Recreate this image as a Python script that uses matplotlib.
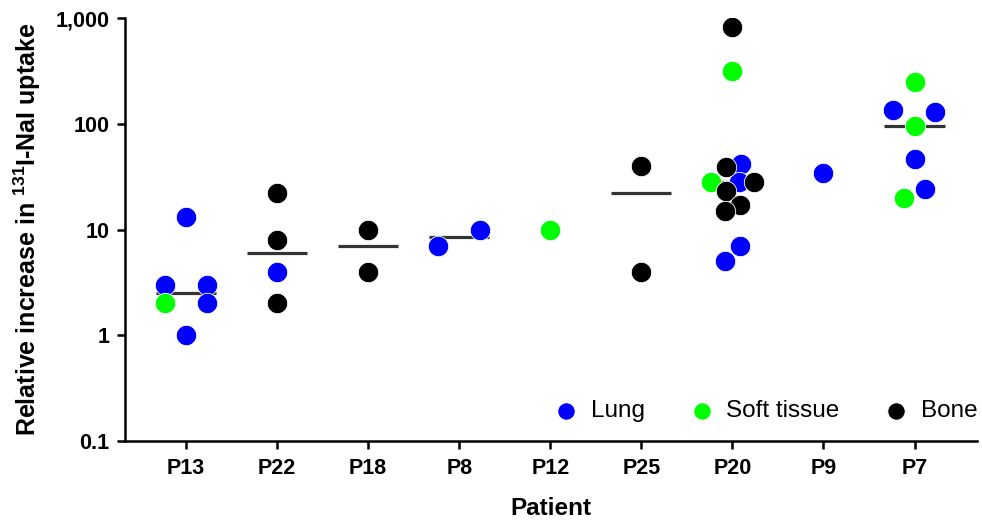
import numpy as np
import matplotlib
matplotlib.use("Agg")
import matplotlib.pyplot as plt
from matplotlib.ticker import FixedLocator, FixedFormatter, NullLocator

plt.rcParams['font.family'] = ['Liberation Sans', 'DejaVu Sans']
plt.rcParams['mathtext.fontset'] = 'custom'
plt.rcParams['mathtext.rm'] = 'Liberation Sans'
plt.rcParams['mathtext.bf'] = 'Liberation Sans:bold'

# categories on the x axis
patients = ['P13', 'P22', 'P18', 'P8', 'P12', 'P25', 'P20', 'P9', 'P7']
tissues = ['Lung', 'Soft tissue', 'Bone']
tissue_colors = {'Lung': '#0000ff', 'Soft tissue': '#00ff00', 'Bone': '#000000'}

# one entry per lesion
point_patient = ['P13', 'P13', 'P13', 'P13', 'P13', 'P13',
                 'P22', 'P22', 'P22', 'P22',
                 'P18', 'P18',
                 'P8', 'P8',
                 'P12',
                 'P25', 'P25',
                 'P20', 'P20', 'P20', 'P20', 'P20', 'P20', 'P20', 'P20',
                 'P20', 'P20', 'P20', 'P20',
                 'P9',
                 'P7', 'P7', 'P7', 'P7', 'P7', 'P7', 'P7']
point_tissue = ['Lung', 'Lung', 'Lung', 'Soft tissue', 'Lung', 'Lung',
                'Bone', 'Bone', 'Lung', 'Bone',
                'Bone', 'Bone',
                'Lung', 'Lung',
                'Soft tissue',
                'Bone', 'Bone',
                'Bone', 'Soft tissue', 'Lung', 'Bone', 'Soft tissue', 'Lung',
                'Bone', 'Bone', 'Bone', 'Bone', 'Lung', 'Lung',
                'Lung',
                'Soft tissue', 'Lung', 'Lung', 'Soft tissue', 'Lung', 'Lung',
                'Soft tissue']
point_value = [13, 3, 3, 2, 2, 1,
               22, 8, 4, 2,
               10, 4,
               7, 10,
               10,
               40, 4,
               820, 316, 42, 39, 28, 28, 28, 23, 17, 15, 7, 5,
               34,
               250, 135, 128, 96, 46, 24, 20]
# horizontal scatter offset of each dot (category units), as drawn
point_jitter = [0, -0.23, 0.23, -0.23, 0.23, 0,
                0, 0, 0, 0,
                0, 0,
                -0.23, 0.23,
                0,
                0, 0,
                0, 0, 0.09, -0.075, -0.23, 0.075, 0.235, -0.07, 0.08, -0.085,
                0.085, -0.085,
                0,
                0, -0.24, 0.23, 0, 0, 0.11, -0.12]

point_patient = np.array(point_patient)
point_tissue = np.array(point_tissue)
point_value = np.array(point_value, dtype=float)
point_jitter = np.array(point_jitter, dtype=float)
xpos = np.array([patients.index(p) for p in point_patient]) + point_jitter

fig = plt.figure(figsize=(9.82, 5.24), dpi=100)
ax = fig.add_axes([0.1273, 0.1584, 0.868, 0.8072])

# median bars (only for patients with more than one lesion)
for i, p in enumerate(patients):
    vals = point_value[point_patient == p]
    if len(vals) > 1:
        med = np.median(vals)
        ax.plot([i - 0.33, i + 0.33], [med, med], color='#333333', lw=2.3,
                solid_capstyle='butt', zorder=2)

for z, t in enumerate(tissues):
    m = point_tissue == t
    ax.scatter(xpos[m], point_value[m], s=215, color=tissue_colors[t],
               edgecolors='white', linewidths=0.6, zorder=3 + z, label=t)

ax.set_yscale('log')
ax.set_ylim(0.1, 1000)
ax.set_xlim(-0.67, 8.69)
ax.yaxis.set_major_locator(FixedLocator([0.1, 1, 10, 100, 1000]))
ax.yaxis.set_major_formatter(FixedFormatter(['0.1', '1', '10', '100', '1,000']))
ax.yaxis.set_minor_locator(NullLocator())
ax.set_xticks(range(len(patients)))
ax.set_xticklabels(patients)

for side in ['top', 'right']:
    ax.spines[side].set_visible(False)
for side in ['left', 'bottom']:
    ax.spines[side].set_linewidth(1.8)
ax.tick_params(width=1.8, length=6, labelsize=15.5)
ax.tick_params(axis='x', pad=6)
ax.tick_params(axis='y', pad=5)
for lbl in ax.get_xticklabels() + ax.get_yticklabels():
    lbl.set_fontweight('bold')

ax.set_xlabel('Patient', fontsize=17.5, fontweight='bold', labelpad=13)
ax.set_ylabel(r'Relative increase in $^{\mathbf{131}}$I-NaI uptake',
              fontsize=18, fontweight='bold', labelpad=9)

leg = ax.legend(loc='center right', bbox_to_anchor=(1.0, 0.071), ncol=3,
                frameon=False, fontsize=17.5, markerscale=0.85,
                handletextpad=0.5, columnspacing=1.85, borderpad=0,
                borderaxespad=0, handlelength=1.0)

fig.savefig('out.png', dpi=100)
